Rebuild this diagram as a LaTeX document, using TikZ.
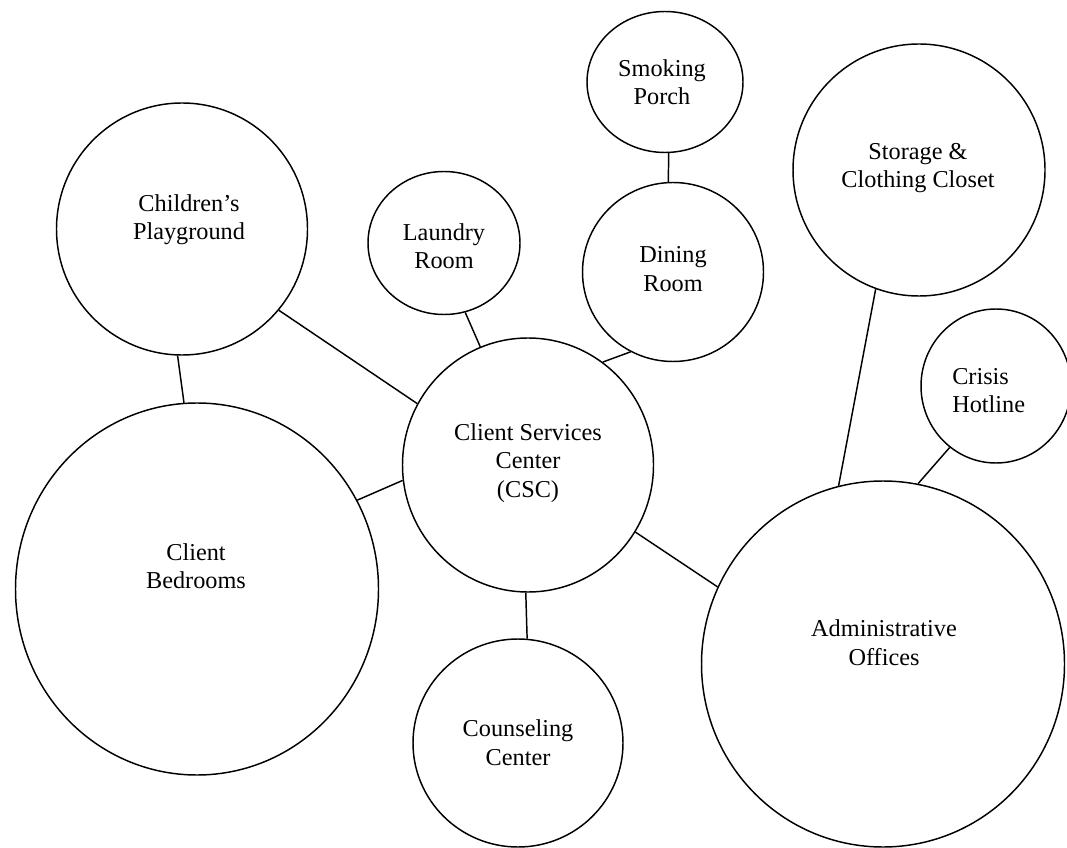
\documentclass[tikz,border=0pt]{standalone}
\usepackage{fontspec}
\setmainfont{Liberation Serif}
\usetikzlibrary{shapes.geometric}
\begin{document}
\begin{tikzpicture}[x=0.75pt,y=-0.75pt,
  room/.style 2 args={ellipse, draw=black, line width=1.1pt, inner sep=0pt,
    minimum width=#1*1.5pt, minimum height=#2*1.5pt},
  lbl/.style={align=center, inner sep=0pt, font=\fontsize{18.2}{21.4}\selectfont},
  link/.style={draw=black, line width=1.1pt}]
\useasboundingbox (0,0) rectangle (1067,848);
% rooms
\node[room={125.5}{126}] (pg) at (182,229) {};
\node[room={181.5}{186}] (bed) at (197,589) {};
\node[room={76}{71.5}] (laundry) at (444,243) {};
\node[room={78}{70.5}] (smoke) at (665,82) {};
\node[room={90.5}{89.5}] (dining) at (673,272) {};
\node[room={126}{126}] (storage) at (919,170) {};
\node[room={75}{77}] (crisis) at (996,386) {};
\node[room={125.5}{127}] (csc) at (528,465) {};
\node[room={105}{104}] (couns) at (518,743) {};
\node[room={181.5}{183}] (admin) at (883,664) {};
% labels
\node[lbl] (tpg) at (189,219.5) {Children’s\\Playground};
\node[lbl] (tbed) at (196,566) {Client\\Bedrooms};
\node[lbl] (tlaundry) at (444,246) {Laundry\\Room};
\node[lbl] (tsmoke) at (662,82) {Smoking\\Porch};
\node[lbl] (tdining) at (673,269) {Dining\\Room};
\node[lbl] (tstorage) at (918,168) {Storage \&\\Clothing Closet};
\node[lbl, align=left, anchor=west] (tcrisis) at (952,390.5) {Crisis\\Hotline};
\node[lbl] (tcsc) at (528,463) {Client Services\\Center\\(CSC)};
\node[lbl] (tcouns) at (518,742.5) {Counseling\\Center};
\node[lbl] (tadmin) at (884,642.5) {Administrative\\Offices};
% connectors
\path[link] (pg.-92) -- (bed.94);
\path[link] (pg.-40.7) -- (csc.151.2);
\path[link] (laundry.-73.5) -- (csc.112.8);
\path[link] (smoke.-87.6) -- (dining.93.2);
\path[link] (dining.-118.3) -- (csc.54.6);
\path[link] (bed.29.1) -- (csc.187.3);
\path[link] (csc.-91) -- (couns.85.6);
\path[link] (csc.-32.1) -- (admin.155.5);
\path[link] (storage.-110.8) -- (admin.104.8);
\path[link] (crisis.-127.7) -- (admin.79.5);
\end{tikzpicture}
\end{document}
